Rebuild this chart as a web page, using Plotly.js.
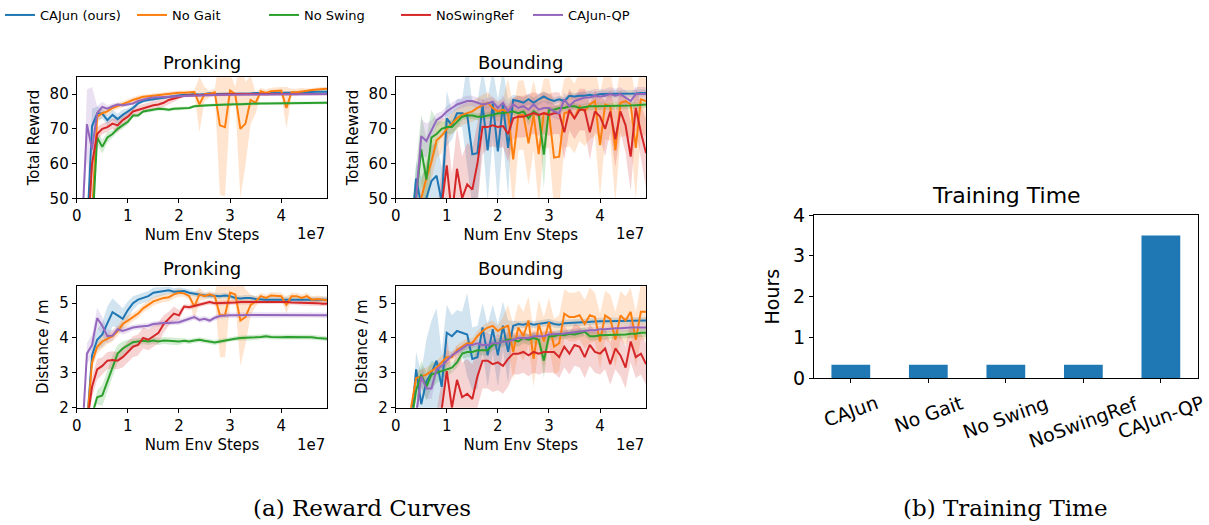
<!DOCTYPE html>
<html>
<head>
<meta charset="utf-8">
<script src="https://cdn.plot.ly/plotly-3.0.1.min.js"></script>
<style>html,body{margin:0;padding:0;background:#fff;}#chart{width:1209px;height:525px;}</style>
</head>
<body>
<div id="chart"></div>
<script>
// ---------- data ----------
const SERIES = ['CAJun (ours)', 'No Gait', 'No Swing', 'NoSwingRef', 'CAJun-QP'];
const COLORS = ['#1f77b4', '#ff7f0e', '#2ca02c', '#d62728', '#9467bd'];
const BAND_COLORS = ['rgba(31,119,180,0.2)', 'rgba(255,127,14,0.2)', 'rgba(44,160,44,0.2)', 'rgba(214,39,40,0.2)', 'rgba(148,103,189,0.2)'];

// env steps (x 1e7)
const STEPS = [0.1,0.2,0.3,0.4,0.5,0.6,0.7,0.8,0.9,1.0,
  1.1,1.2,1.3,1.4,1.5,1.6,1.7,1.8,1.9,2.0,
  2.1,2.2,2.3,2.4,2.5,2.6,2.7,2.8,2.9,3.0,
  3.1,3.2,3.3,3.4,3.5,3.6,3.7,3.8,3.9,4.0,
  4.1,4.2,4.3,4.4,4.5,4.6,4.7,4.8,4.9];

// Pronking - Total Reward
const prRew_cajun = [30,40,70.8,74.4,74.4,72.5,74,72.8,74,75, 76,77.3,78,78.3,78.5,78.7,79,79.2,79.5,79.7, 79.8,79.8,80,79.8,80,80.2,80,80,80.1,80, 80,80.2,80.1,80.2,80.3,80.2,80.3,80.3,80.4,80.3, 80.4,80.4,80.5,80.5,80.6,80.6,80.7,80.7,80.7];
const prRew_cajunSd = [0,0,5,2,1.5,1.5,1.5,1.5,1.5,1, 0.8,0.6,0.5,0.5,0.5,0.4,0.4,0.4,0.4,0.4, 0.4,0.4,0.4,0.4,0.4,0.4,0.4,0.4,0.4,0.4, 0.4,0.4,0.4,0.4,0.4,0.4,0.4,0.4,0.4,0.4, 0.4,0.4,0.4,0.4,0.4,0.4,0.4,0.4,0.4];
const prRew_noGait = [25,30,45,73.5,74.5,75,76,76.5,77,77.7, 78.3,78.8,79.2,79.4,79.6,79.8,80,80.2,80.4,80.4, 80.4,80.4,80.6,77,80,80,80.5,71,70.5,81, 80,70,71.5,78.3,77.5,80.8,80.3,80.8,81,81, 76,80.5,80.5,80.8,81,81.2,81.3,81.5,81.5];
const prRew_noGaitSd = [0,0,3,2,1,1,0.8,0.8,0.8,0.8, 0.8,0.8,0.6,0.6,0.6,0.5,0.5,0.5,0.5,0.5, 0.5,0.5,0.5,8,2,1,1,20,20,5, 2,20,12,7,3,1,1,1,1,1, 6,1,1,1,0.5,0.5,0.5,0.5,0.5];
const prRew_noSwing = [20,30,40,67.5,64.8,67.5,68.5,70,71,72, 73.8,73.8,75,75.3,75.5,75.8,75.7,75.5,75.8,75.8, 76,76,76.5,76.7,76.7,76.8,76.9,77,77,77, 77.1,77.1,77.2,77.2,77.2,77.3,77.3,77.3,77.4,77.4, 77.4,77.5,77.5,77.5,77.5,77.5,77.5,77.5,77.5];
const prRew_noSwingSd = [0,0,0,2,2,1.5,1,1,1,0.8, 0.6,0.5,0.5,0.5,0.5,0.5,0.5,0.5,0.5,0.5, 0.4,0.4,0.4,0.4,0.4,0.4,0.4,0.4,0.4,0.4, 0.4,0.4,0.4,0.4,0.4,0.4,0.4,0.4,0.4,0.4, 0.4,0.4,0.4,0.4,0.4,0.4,0.4,0.4,0.4];
const prRew_noSwingRef = [25,35,60,68.5,70,70.5,71.5,71,72.5,73.5, 75,75.5,76,76.5,76.8,77,77.5,78.3,78.7,79.3, 79.5,79.6,79.7,79.7,79.8,79.8,79.8,79.9,79.9,80, 80,80,80,80,80,80,80,80,80,80, 80,80,80,80,80,80,80,80,80];
const prRew_noSwingRefSd = [0,0,4,2,1.5,1.5,1.5,2,1.5,1.5, 1.2,1.2,1.2,1.2,1.2,1.2,1.2,1.2,1,0.8, 0.4,0.4,0.4,0.4,0.4,0.4,0.4,0.4,0.4,0.4, 0.4,0.4,0.4,0.4,0.4,0.4,0.4,0.4,0.4,0.4, 0.4,0.4,0.4,0.4,0.4,0.4,0.4,0.4,0.4];
const prRew_qp = [40,71.3,64,74.5,76.3,75.8,76.5,77,76.8,77, 77.3,78,78.5,78.8,79,79.1,79.2,79.3,79.4,79.5, 79.5,79.6,79.6,79.6,79.7,79.7,79.7,79.8,79.8,79.8, 79.8,79.8,79.9,79.9,79.9,79.9,80,80,80,80, 80,80,80,80,80,80,80,80,80];
const prRew_qpSd = [0,10,18,2,1.5,1,0.8,0.6,0.6,0.6, 0.5,0.5,0.5,0.5,0.5,0.5,0.5,0.5,0.5,0.5, 0.4,0.4,0.4,0.4,0.4,0.4,0.4,0.4,0.4,0.4, 0.4,0.4,0.4,0.4,0.4,0.4,0.4,0.4,0.4,0.4, 0.4,0.4,0.4,0.4,0.4,0.4,0.4,0.4,0.4];

// Bounding - Total Reward
const bdRew_cajun = [20,30,40,55.7,48,50,55,56.5,49,73, 71,74.5,74.5,74,62.7,63,77,63.8,77.3,63.5, 77,64.5,78.3,78,77.5,78.5,77.5,78.5,79.3,78.5, 78,78.5,78,79.5,79.3,79.5,79.5,79.8,79.5,80, 80,80,80.1,80,80.2,80.2,80.2,80.3,80.3];
const bdRew_cajunSd = [0,0,0,5,8,10,10,10,10,8, 4,4,4,15,15,15,10,15,10,15, 10,14,1.5,1.5,1.5,1.5,1.5,1.5,1.5,1.5, 1,1,1,1,1,1,1,1,1,1, 1,1,1,1,1,1,1,1,1];
const bdRew_noGait = [20,30,35,40,50,55.7,60.5,66.7,68,70, 71.5,73,74,74.5,75,76,76.8,77.5,76,75, 75.5,74.5,61.2,73.8,74,65.8,74,62.7,74.5,74.5, 61.7,62,74.5,75,73,76.5,75,77,78,65.3, 77,76.5,63.8,77.5,78,77,64.5,78.5,78];
const bdRew_noGaitSd = [0,0,0,0,5,5,5,5,5,3, 3,3,3,3,3,3,3,3,3,3, 3,10,15,10,10,12,10,15,10,10, 15,15,10,10,10,10,10,10,10,15, 10,10,15,10,10,10,15,10,10];
const bdRew_noSwing = [20,30,45,50.5,64.1,55.4,67.5,68.5,70,70.5, 70.5,72,73.5,73.8,73.8,73.5,73.5,73.8,74,74.5, 74.5,74.8,75,74.5,75,73,75,74,62.6,75.5, 75.5,76,76,76.5,76.5,76,76.3,76.5,76.5,76.5, 76.5,76.5,76.5,76.5,76.6,76.7,76.8,77,77];
const bdRew_noSwingSd = [0,0,0,10,10,12,8,4,2,2, 2,2,1,1,1,1,1,1,1,1, 1,1,1,1,1,2,1,1,10,1, 1,1,1,1,1,1,1,1,1,1, 1,1,1,1,1,1,1,1,1];
const bdRew_noSwingRef = [10,20,25,30,35,40,45,45,48,59.5, 45,58.5,50,54,52.5,60,70.6,70.5,71,70.5, 70.8,68.5,73,73.5,73.5,74,74.5,74,74.5,74, 74.5,74.5,69,75.5,73,75.5,75.5,69,75,73.5, 70,75,67,75,71,62,76,69,63];
const bdRew_noSwingRefSd = [0,0,0,0,0,0,0,0,10,12, 12,12,12,12,12,12,8,6,6,6, 6,8,6,6,6,6,6,6,6,6, 6,6,8,6,6,6,6,8,6,6, 8,6,8,6,8,10,6,8,10];
const bdRew_qp = [20,30,40,50,67.9,66.5,69.5,72.5,73.5,75, 76,77,77.5,78,78,77.5,77,77.3,77.8,76, 77.5,75,77,76,76.5,75.5,77,75.5,76,76, 75,74.5,78.5,76.5,78,78.5,79,79,79.5,79.3, 79.5,80,79.5,80,79,78,80,80,80];
const bdRew_qpSd = [0,0,0,5,5,5,3,2,1.5,1.5, 1.5,1.5,1.5,1.5,1.5,1.5,1.5,1.5,1.5,1.5, 2,2,2,2,2,2,2,2,2,2, 2,2,2,2,2,2,2,2,2,2, 2,2,2,2,2,2,2,2,2];

// Pronking - Distance
const prDist_cajun = [1.0,1.5,3.5,3.95,4.1,4.4,4.74,4.65,4.55,4.8, 5.0,5.1,5.15,5.2,5.3,5.33,5.35,5.37,5.33,5.35, 5.35,5.3,5.27,5.25,5.22,5.22,5.2,5.2,5.22,5.2, 5.15,5.13,5.15,5.15,5.12,5.1,5.1,5.1,5.1,5.1, 5.1,5.1,5.1,5.1,5.12,5.12,5.1,5.1,5.1];
const prDist_cajunSd = [0,0,0.3,0.3,0.35,0.5,0.4,0.35,0.3,0.25, 0.2,0.15,0.15,0.15,0.15,0.12,0.12,0.1,0.1,0.1, 0.08,0.08,0.08,0.08,0.08,0.08,0.08,0.08,0.08,0.08, 0.08,0.08,0.08,0.08,0.08,0.08,0.08,0.08,0.08,0.08, 0.08,0.08,0.08,0.08,0.08,0.08,0.08,0.08,0.08];
const prDist_noGait = [1.0,1.5,3.3,3.75,3.9,3.97,4.05,4.2,4.4,4.5, 4.6,4.7,4.85,4.95,5.05,5.1,5.15,5.17,5.25,5.3, 5.28,5.2,4.9,5.25,5.2,5.25,5.2,4.65,4.65,5.3, 5.25,4.5,4.6,4.95,5.05,5.2,5.15,5.22,5.2,5.2, 4.95,5.2,5.2,5.15,5.2,5.1,5.12,5.1,5.08];
const prDist_noGaitSd = [0,0,0.2,0.2,0.2,0.15,0.15,0.15,0.15,0.15, 0.12,0.12,0.12,0.12,0.12,0.12,0.12,0.12,0.12,0.12, 0.1,0.1,0.4,0.2,0.1,0.1,0.1,1.2,1.2,0.3, 0.2,1.3,0.8,0.3,0.15,0.1,0.1,0.1,0.1,0.1, 0.25,0.1,0.1,0.1,0.1,0.1,0.1,0.1,0.1];
const prDist_noSwing = [0.5,1.0,1.8,2.3,2.35,2.75,3.2,3.55,3.7,3.8, 3.88,3.9,3.92,3.9,3.93,3.9,3.93,3.92,3.9,3.9, 3.92,3.9,3.93,3.95,3.92,3.9,3.87,3.9,3.93,3.97, 3.98,4.0,4.0,4.0,4.02,4.03,4.05,4.03,4.02,4.02, 4.03,4.03,4.02,4.03,4.03,4.02,4.0,4.0,3.98];
const prDist_noSwingSd = [0,0,0,0.2,0.3,0.3,0.3,0.25,0.2,0.15, 0.1,0.1,0.1,0.1,0.1,0.1,0.1,0.1,0.1,0.1, 0.07,0.07,0.07,0.07,0.07,0.07,0.07,0.07,0.07,0.07, 0.07,0.07,0.07,0.07,0.07,0.07,0.07,0.07,0.07,0.07, 0.07,0.07,0.07,0.07,0.07,0.07,0.07,0.07,0.07];
const prDist_noSwingRef = [0.5,1.5,2.6,3.1,3.2,3.35,3.37,3.35,3.45,3.6, 3.75,3.8,4.0,3.95,4.05,4.15,4.4,4.55,4.7,4.65, 4.9,4.88,4.92,4.95,5.0,5.03,5.0,5.0,5.0,5.02, 5.02,5.03,5.03,5.03,5.03,5.04,5.05,5.05,5.05,5.05, 5.03,5.02,5.02,5.0,5.0,5.0,5.0,4.98,4.98];
const prDist_noSwingRefSd = [0,0,0.3,0.3,0.25,0.25,0.25,0.25,0.3,0.3, 0.3,0.3,0.3,0.3,0.3,0.3,0.25,0.2,0.2,0.15, 0.07,0.07,0.07,0.07,0.07,0.07,0.07,0.07,0.07,0.07, 0.07,0.07,0.07,0.07,0.07,0.07,0.07,0.07,0.07,0.07, 0.07,0.07,0.07,0.07,0.07,0.07,0.07,0.07,0.07];
const prDist_qp = [1.0,3.55,3.8,4.57,4.35,4.05,4.07,4.25,4.2,4.25, 4.3,4.32,4.33,4.35,4.4,4.42,4.43,4.43,4.45,4.45, 4.5,4.55,4.6,4.52,4.55,4.5,4.58,4.63,4.65,4.65, 4.65,4.66,4.66,4.66,4.66,4.66,4.66,4.66,4.66,4.66, 4.66,4.66,4.67,4.67,4.67,4.66,4.66,4.66,4.65];
const prDist_qpSd = [0,0.3,0.3,0.3,0.25,0.2,0.15,0.1,0.1,0.1, 0.08,0.08,0.08,0.08,0.08,0.08,0.08,0.08,0.08,0.08, 0.08,0.08,0.08,0.08,0.08,0.08,0.08,0.08,0.08,0.08, 0.08,0.08,0.08,0.08,0.08,0.08,0.08,0.08,0.08,0.08, 0.08,0.08,0.08,0.08,0.08,0.08,0.08,0.08,0.08];

// Bounding - Distance
const bdDist_cajun = [0.5,1.0,1.5,3.1,2.1,2.75,3.0,3.35,2.6,4.15, 4.05,4.2,4.15,4.1,3.4,3.45,4.3,3.5,4.25,3.5, 4.35,3.6,4.35,4.4,4.38,4.42,4.38,4.4,4.42,4.45, 4.4,4.38,4.42,4.43,4.45,4.45,4.45,4.46,4.47,4.48, 4.48,4.48,4.48,4.49,4.5,4.5,4.5,4.5,4.5];
const bdDist_cajunSd = [0,0,0,0.5,0.9,1.2,1.5,1.5,1,0.8, 0.6,0.6,0.6,1.2,0.9,0.9,0.7,0.9,0.7,0.9, 0.7,0.9,0.15,0.1,0.1,0.1,0.1,0.1,0.1,0.1, 0.1,0.1,0.1,0.1,0.1,0.1,0.1,0.1,0.1,0.1, 0.1,0.1,0.1,0.1,0.1,0.1,0.1,0.1,0.1];
const bdDist_noGait = [0.5,1.0,2.0,2.85,2.9,2.95,3.05,3.15,3.3,3.45, 3.45,3.65,3.75,3.85,3.85,4.05,4.2,4.3,4.35,4.2, 4.3,4.35,3.6,4.3,4.05,4.5,3.4,4.4,3.9,4.45, 3.75,3.85,4.7,4.6,4.6,4.65,4.4,4.65,4.6,3.9, 4.65,4.55,3.95,4.65,4.5,4.75,3.95,4.75,4.75];
const bdDist_noGaitSd = [0,0,0,0.2,0.2,0.2,0.2,0.2,0.2,0.2, 0.15,0.15,0.15,0.15,0.15,0.15,0.15,0.15,0.15,0.15, 0.3,0.6,0.8,0.7,0.7,0.7,0.8,0.7,0.7,0.7, 0.8,0.8,0.7,0.7,0.7,0.7,0.7,0.8,0.7,0.8, 0.7,0.7,0.8,0.7,0.7,0.7,0.8,0.8,0.8];
const bdDist_noSwing = [0.5,1.0,1.5,2.5,2.95,2.6,2.95,3.0,3.05,3.1, 3.15,3.3,3.55,3.6,3.6,3.65,3.65,3.65,3.8,3.85, 3.9,3.95,3.95,3.9,4.0,3.95,4.0,3.95,3.35,4.05, 4.05,4.1,4.08,4.12,4.1,4.15,4.18,4.05,4.05,4.08, 4.08,4.1,4.1,4.1,4.1,4.12,4.12,4.15,4.15];
const bdDist_noSwingSd = [0,0,0,0.3,0.4,0.4,0.4,0.3,0.2,0.2, 0.15,0.15,0.15,0.15,0.15,0.15,0.15,0.15,0.15,0.15, 0.15,0.15,0.15,0.15,0.15,0.15,0.15,0.15,0.5,0.12, 0.12,0.12,0.12,0.12,0.12,0.12,0.12,0.12,0.12,0.12, 0.12,0.12,0.12,0.12,0.12,0.12,0.12,0.12,0.12];
const bdDist_noSwingRef = [0.5,0.8,1.0,1.2,1.4,1.6,1.8,1.9,1.95,3.05, 2.0,2.8,2.3,2.4,2.25,2.9,3.35,3.35,3.25,3.3, 3.2,3.4,3.55,3.55,3.6,3.5,3.6,3.55,3.6,3.6, 3.6,3.45,3.75,3.55,3.8,3.75,3.45,3.8,3.6,3.55, 3.7,3.25,3.7,3.5,3.15,3.9,3.45,3.55,3.25];
const bdDist_noSwingRefSd = [0,0,0,0,0,0,0,0,0.8,1, 1,1,1,1,1,0.9,0.8,0.8,0.8,0.8, 0.8,0.8,0.6,0.6,0.6,0.6,0.6,0.6,0.6,0.6, 0.6,0.6,0.6,0.6,0.6,0.6,0.6,0.6,0.6,0.6, 0.6,0.6,0.6,0.6,0.6,0.6,0.6,0.6,0.6];
const bdDist_qp = [0.5,1.0,1.5,1.8,2.9,2.55,2.55,3.1,3.2,3.35, 3.5,3.6,3.7,3.8,3.8,3.85,3.8,3.8,3.85,3.85, 3.9,3.9,3.95,4.0,4.0,4.0,4.05,4.05,4.05,4.1, 4.1,4.12,4.13,4.15,4.15,4.18,4.2,4.22,4.22,4.25, 4.25,4.27,4.28,4.28,4.3,4.3,4.3,4.3,4.3];
const bdDist_qpSd = [0,0,0,0.3,0.3,0.3,0.3,0.2,0.15,0.1, 0.1,0.1,0.1,0.1,0.1,0.1,0.1,0.1,0.1,0.1, 0.1,0.1,0.1,0.1,0.1,0.1,0.1,0.1,0.1,0.1, 0.1,0.1,0.1,0.1,0.1,0.1,0.1,0.1,0.1,0.1, 0.1,0.1,0.1,0.1,0.1,0.1,0.1,0.1,0.1];

// Training time (hours)
const TIME_LABELS = ['CAJun', 'No Gait', 'No Swing', 'NoSwingRef', 'CAJun-QP'];
const TIME_HOURS = [0.33, 0.33, 0.33, 0.33, 3.5];

const PANEL_TITLES = ['Pronking', 'Bounding', 'Pronking', 'Bounding'];
const REWARD_TICKS = [50, 60, 70, 80];
const DIST_TICKS = [2, 3, 4, 5];
const STEP_TICKS = [0, 1, 2, 3, 4];
const HOUR_TICKS = [0, 1, 2, 3, 4];

// ---------- build ----------
const panels = [
  {xa: 'x', ya: 'y', means: [prRew_cajun, prRew_noGait, prRew_noSwing, prRew_noSwingRef, prRew_qp],
   sds: [prRew_cajunSd, prRew_noGaitSd, prRew_noSwingSd, prRew_noSwingRefSd, prRew_qpSd]},
  {xa: 'x2', ya: 'y2', means: [bdRew_cajun, bdRew_noGait, bdRew_noSwing, bdRew_noSwingRef, bdRew_qp],
   sds: [bdRew_cajunSd, bdRew_noGaitSd, bdRew_noSwingSd, bdRew_noSwingRefSd, bdRew_qpSd]},
  {xa: 'x3', ya: 'y3', means: [prDist_cajun, prDist_noGait, prDist_noSwing, prDist_noSwingRef, prDist_qp],
   sds: [prDist_cajunSd, prDist_noGaitSd, prDist_noSwingSd, prDist_noSwingRefSd, prDist_qpSd]},
  {xa: 'x4', ya: 'y4', means: [bdDist_cajun, bdDist_noGait, bdDist_noSwing, bdDist_noSwingRef, bdDist_qp],
   sds: [bdDist_cajunSd, bdDist_noGaitSd, bdDist_noSwingSd, bdDist_noSwingRefSd, bdDist_qpSd]}
];

const traces = [];
panels.forEach(function (p) {
  p.means.forEach(function (m, k) {
    const sd = p.sds[k];
    const up = m.map(function (v, i) { return v + (sd[i] || 0); });
    const lo = m.map(function (v, i) { return v - (sd[i] || 0); });
    traces.push({
      type: 'scatter', mode: 'lines', xaxis: p.xa, yaxis: p.ya,
      x: STEPS.concat(STEPS.slice().reverse()),
      y: up.concat(lo.slice().reverse()),
      fill: 'toself', fillcolor: BAND_COLORS[k], line: {width: 0, color: 'rgba(0,0,0,0)'},
      hoverinfo: 'skip', showlegend: false
    });
  });
});
panels.forEach(function (p, pi) {
  p.means.forEach(function (m, k) {
    traces.push({
      type: 'scatter', mode: 'lines', xaxis: p.xa, yaxis: p.ya,
      x: STEPS, y: m, name: SERIES[k], legendgroup: SERIES[k],
      showlegend: pi === 0, line: {color: COLORS[k], width: 2}
    });
  });
});
traces.push({
  type: 'bar', xaxis: 'x5', yaxis: 'y5', x: TIME_LABELS, y: TIME_HOURS,
  width: 0.5, marker: {color: '#1f77b4'}, showlegend: false
});

const W = 1209, H = 525;
const FONT = 'DejaVu Sans, sans-serif';
function px(v) { return v / W; }
function py(v) { return 1 - v / H; }

const axBase = {
  showline: true, mirror: true, linecolor: '#000', linewidth: 1,
  ticks: 'outside', ticklen: 4, tickwidth: 1, tickcolor: '#000',
  showgrid: false, zeroline: false, tickfont: {family: FONT, size: 15, color: '#000'}
};
function xax(dom, anchor) {
  return Object.assign({}, axBase, {
    domain: dom, anchor: anchor, range: [0, 4.9], tickvals: STEP_TICKS,
    title: {text: 'Num Env Steps', font: {family: FONT, size: 15, color: '#000'}, standoff: 5}
  });
}
function yax(dom, anchor, range, ticks, title) {
  return Object.assign({}, axBase, {
    domain: dom, anchor: anchor, range: range, tickvals: ticks,
    title: {text: title, font: {family: FONT, size: 15, color: '#000'}, standoff: 6}
  });
}

const colL = [px(76.7), px(327.3)];
const colR = [px(395.7), px(646)];
const rowT = [py(198.3), py(76.7)];
const rowB = [py(407.7), py(285.7)];

const annotations = [];
const titleY = [py(62), py(62), py(268), py(268)];
const titleX = [(colL[0] + colL[1]) / 2, (colR[0] + colR[1]) / 2, (colL[0] + colL[1]) / 2, (colR[0] + colR[1]) / 2];
PANEL_TITLES.forEach(function (t, i) {
  annotations.push({text: t, x: titleX[i], y: titleY[i], xref: 'paper', yref: 'paper',
    xanchor: 'center', yanchor: 'middle', showarrow: false, font: {family: FONT, size: 18, color: '#000'}});
});
[['x', py(234)], ['x2', py(234)], ['x3', py(445)], ['x4', py(445)]].forEach(function (a) {
  annotations.push({text: '1e7', x: 1, xref: a[0] + ' domain', y: a[1], yref: 'paper',
    xanchor: 'right', yanchor: 'middle', showarrow: false, font: {family: FONT, size: 15, color: '#000'}});
});
TIME_LABELS.forEach(function (t) {
  annotations.push({text: t, x: t, xref: 'x5', y: py(389), yref: 'paper', textangle: -20,
    xanchor: 'center', yanchor: 'top', showarrow: false, font: {family: FONT, size: 19, color: '#000'}});
});
annotations.push({text: 'Training Time', x: px(1006), y: py(195), xref: 'paper', yref: 'paper',
  xanchor: 'center', yanchor: 'middle', showarrow: false, font: {family: FONT, size: 22, color: '#000'}});
annotations.push({text: '(a) Reward Curves', x: px(362), y: py(508), xref: 'paper', yref: 'paper',
  xanchor: 'center', yanchor: 'middle', showarrow: false, font: {family: 'DejaVu Serif, serif', size: 23, color: '#000'}});
annotations.push({text: '(b) Training Time', x: px(1005), y: py(508), xref: 'paper', yref: 'paper',
  xanchor: 'center', yanchor: 'middle', showarrow: false, font: {family: 'DejaVu Serif, serif', size: 23, color: '#000'}});

const layout = {
  width: W, height: H, margin: {l: 0, r: 0, t: 0, b: 0},
  paper_bgcolor: '#fff', plot_bgcolor: '#fff',
  font: {family: FONT, color: '#000'},
  showlegend: true,
  legend: {orientation: 'h', x: 0, y: 1, xanchor: 'left', yanchor: 'top',
    entrywidth: 87, entrywidthmode: 'pixels',
    font: {family: FONT, size: 13, color: '#000'}, bgcolor: 'rgba(0,0,0,0)', tracegroupgap: 0},
  xaxis: xax(colL, 'y'), yaxis: yax(rowT, 'x', [50, 85], REWARD_TICKS, 'Total Reward'),
  xaxis2: xax(colR, 'y2'), yaxis2: yax(rowT, 'x2', [50, 85], REWARD_TICKS, 'Total Reward'),
  xaxis3: xax(colL, 'y3'), yaxis3: yax(rowB, 'x3', [2, 5.5], DIST_TICKS, 'Distance / m'),
  xaxis4: xax(colR, 'y4'), yaxis4: yax(rowB, 'x4', [2, 5.5], DIST_TICKS, 'Distance / m'),
  xaxis5: Object.assign({}, axBase, {domain: [px(814), px(1197.7)], anchor: 'y5', type: 'category',
    range: [-0.475, 4.475], showticklabels: false}),
  yaxis5: Object.assign({}, axBase, {domain: [py(378.3), py(215)], anchor: 'x5', range: [0, 4],
    tickvals: HOUR_TICKS, tickfont: {family: FONT, size: 19, color: '#000'},
    title: {text: 'Hours', font: {family: FONT, size: 19, color: '#000'}, standoff: 8}}),
  annotations: annotations
};

Plotly.newPlot('chart', traces, layout, {displayModeBar: false, staticPlot: true});
</script>
</body>
</html>
